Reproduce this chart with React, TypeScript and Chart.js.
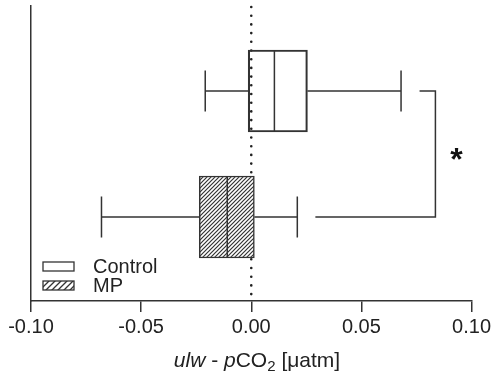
import { useEffect, useRef } from 'react';
import { Chart, registerables } from 'chart.js';

Chart.register(...registerables);

// ---- data ----
const categories = ['Control', 'MP'];
const positions = [2, 1];
const whiskerLow = [-0.0209, -0.068];
const q1 = [-0.0014, -0.0236];
const medians = [0.0105, -0.0109];
const q3 = [0.0255, 0.0014];
const whiskerHigh = [0.068, 0.0209];
const xTicks = [-0.1, -0.05, 0, 0.05, 0.1];
const legendLabels = ['Control', 'MP'];
const sigBracketX = 0.0836;
const sigBracketStart = [0.0764, 0.0291];
const sigMarkX = 0.0932;
const sigLabel = '*';

const FONT = "'Liberation Sans', Arial, sans-serif";
const INK = '#333333';

function makeHatch(ctx: CanvasRenderingContext2D, s: number, lw: number) {
  const c = document.createElement('canvas');
  c.width = s;
  c.height = s;
  const g = c.getContext('2d')!;
  g.fillStyle = '#ffffff';
  g.fillRect(0, 0, s, s);
  g.strokeStyle = INK;
  g.lineWidth = lw;
  g.beginPath();
  g.moveTo(0, s);
  g.lineTo(s, 0);
  g.moveTo(-1, 1);
  g.lineTo(1, -1);
  g.moveTo(s - 1, s + 1);
  g.lineTo(s + 1, s - 1);
  g.stroke();
  return ctx.createPattern(c, 'repeat')!;
}

export default function App() {
  const ref = useRef<HTMLCanvasElement>(null);

  useEffect(() => {
    document.body.style.margin = '0';
    const canvas = ref.current!;
    const ctx0 = canvas.getContext('2d')!;
    const hatch = makeHatch(ctx0, 4, 1.2);
    const hatchLegend = makeHatch(ctx0, 6, 1.3);
    const fills = ['rgba(0,0,0,0)', hatch];

    const boxPlugin = {
      id: 'boxExtras',
      beforeDatasetsDraw(chart: any) {
        const { ctx, chartArea, scales } = chart;
        const x0 = scales.x.getPixelForValue(0);
        ctx.save();
        ctx.strokeStyle = '#222';
        ctx.lineWidth = 2.6;
        ctx.lineCap = 'round';
        ctx.setLineDash([0, 8.7]);
        ctx.beginPath();
        ctx.moveTo(x0, chartArea.top + 1);
        ctx.lineTo(x0, chartArea.bottom);
        ctx.stroke();
        ctx.restore();
      },
      afterDatasetsDraw(chart: any) {
        const { ctx, scales } = chart;
        const xs = scales.x;
        const ys = scales.y;
        ctx.save();
        ctx.strokeStyle = INK;
        ctx.lineWidth = 1.5;
        const capHalf = 20.5;
        const boxHalf = 40.5;
        categories.forEach((_, i) => {
          const y = ys.getPixelForValue(positions[i]);
          const xl = xs.getPixelForValue(whiskerLow[i]);
          const xq1 = xs.getPixelForValue(q1[i]);
          const xm = xs.getPixelForValue(medians[i]);
          const xq3 = xs.getPixelForValue(q3[i]);
          const xh = xs.getPixelForValue(whiskerHigh[i]);
          ctx.beginPath();
          ctx.moveTo(xl, y);
          ctx.lineTo(xq1, y);
          ctx.moveTo(xq3, y);
          ctx.lineTo(xh, y);
          ctx.moveTo(xl, y - capHalf);
          ctx.lineTo(xl, y + capHalf);
          ctx.moveTo(xh, y - capHalf);
          ctx.lineTo(xh, y + capHalf);
          ctx.moveTo(xm, y - boxHalf);
          ctx.lineTo(xm, y + boxHalf);
          ctx.stroke();
        });
        // significance bracket
        const bx = xs.getPixelForValue(sigBracketX);
        const yTop = ys.getPixelForValue(positions[0]);
        const yBot = ys.getPixelForValue(positions[1]);
        ctx.beginPath();
        ctx.moveTo(xs.getPixelForValue(sigBracketStart[0]), yTop);
        ctx.lineTo(bx, yTop);
        ctx.lineTo(bx, yBot);
        ctx.lineTo(xs.getPixelForValue(sigBracketStart[1]), yBot);
        ctx.stroke();
        // asterisk
        ctx.fillStyle = '#111';
        ctx.font = `bold 32px ${FONT}`;
        ctx.textAlign = 'center';
        ctx.textBaseline = 'alphabetic';
        const m = ctx.measureText(sigLabel);
        const midY = ys.getPixelForValue((positions[0] + positions[1]) / 2);
        const asc = m.actualBoundingBoxAscent;
        const desc = m.actualBoundingBoxDescent;
        ctx.fillText(sigLabel, xs.getPixelForValue(sigMarkX), midY + (asc - desc) / 2);
        ctx.restore();
      },
      afterDraw(chart: any) {
        const { ctx, chartArea } = chart;
        ctx.save();
        // legend
        const legendFills = ['#ffffff', hatchLegend];
        const boxTops = [262, 281];
        ctx.lineWidth = 1.3;
        ctx.strokeStyle = INK;
        ctx.font = `20px ${FONT}`;
        ctx.textAlign = 'left';
        ctx.textBaseline = 'middle';
        legendLabels.forEach((lab, i) => {
          const bx = chartArea.left + 12;
          const by = boxTops[i];
          ctx.fillStyle = legendFills[i];
          ctx.fillRect(bx, by, 31, 9);
          ctx.strokeRect(bx, by, 31, 9);
          ctx.fillStyle = '#222';
          ctx.fillText(lab, bx + 50, by + 5);
        });
        // x-axis title with italic and subscript
        const parts = [
          { t: 'ulw', f: `italic 21px ${FONT}`, dy: 0 },
          { t: ' - ', f: `21px ${FONT}`, dy: 0 },
          { t: 'p', f: `italic 21px ${FONT}`, dy: 0 },
          { t: 'CO', f: `21px ${FONT}`, dy: 0 },
          { t: '2', f: `15px ${FONT}`, dy: 4 },
          { t: ' [μatm]', f: `21px ${FONT}`, dy: 0 },
        ];
        let total = 0;
        parts.forEach((p) => {
          ctx.font = p.f;
          total += ctx.measureText(p.t).width;
        });
        const cx = 257;
        let x = cx - total / 2;
        const base = 367;
        ctx.fillStyle = '#222';
        ctx.textBaseline = 'alphabetic';
        parts.forEach((p) => {
          ctx.font = p.f;
          ctx.fillText(p.t, x, base + p.dy);
          x += ctx.measureText(p.t).width;
        });
        ctx.restore();
      },
    };

    const chart = new Chart(canvas, {
      type: 'bar',
      data: {
        datasets: [
          {
            label: 'box',
            data: categories.map((_, i) => ({ x: [q1[i], q3[i]], y: positions[i] })) as any,
            backgroundColor: fills as any,
            borderColor: INK,
            borderWidth: 1.5,
            borderSkipped: false,
            barThickness: 82,
          },
        ],
      },
      options: {
        indexAxis: 'y',
        responsive: false,
        animation: false,
        layout: { padding: { top: 6, right: 22, left: 0, bottom: 0 } },
        plugins: { legend: { display: false }, tooltip: { enabled: false } },
        scales: {
          x: {
            type: 'linear',
            min: -0.1,
            max: 0.1,
            offset: false,
            afterBuildTicks: (scale: any) => {
              scale.ticks = xTicks.map((v) => ({ value: v }));
            },
            afterFit: (scale: any) => {
              scale.height = 76;
            },
            ticks: {
              callback: (v: any) => Number(v).toFixed(2),
              font: { size: 20, family: FONT },
              color: '#222',
              padding: 3,
              maxRotation: 0,
            },
            grid: { drawOnChartArea: false, tickLength: 11, color: INK, lineWidth: 1.5 },
            border: { color: INK, width: 1.5 },
          },
          y: {
            type: 'linear',
            min: 0.333,
            max: 2.675,
            offset: false,
            afterFit: (scale: any) => {
              scale.width = 31;
            },
            ticks: { display: false },
            grid: { display: false },
            border: { color: INK, width: 1.5 },
          },
        },
      },
      plugins: [boxPlugin],
    });
    return () => chart.destroy();
  }, []);

  return <canvas ref={ref} width={494} height={377} style={{ display: 'block' }} />;
}
